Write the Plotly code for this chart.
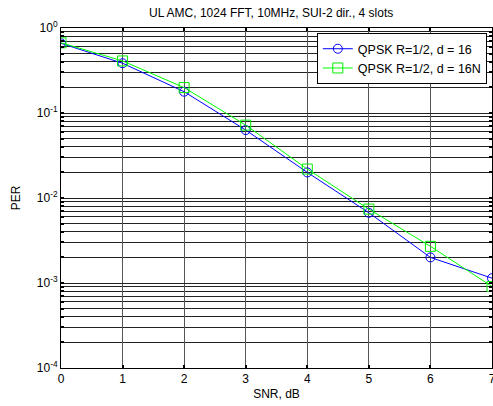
import plotly.graph_objects as go

snr = [0, 1, 2, 3, 4, 5, 6, 7]
per_d16 = [0.66, 0.385, 0.178, 0.063, 0.020, 0.0067, 0.0020, 0.00114]
per_d16n = [0.67, 0.41, 0.199, 0.072, 0.0219, 0.0074, 0.0027, 0.00091]
name_d16 = "QPSK R=1/2, d = 16"
name_d16n = "QPSK R=1/2, d = 16N"
title = "UL AMC, 1024 FFT, 10MHz, SUI-2 dir., 4 slots"
y_tickvals = [1e-4, 1e-3, 1e-2, 1e-1, 1]
y_ticktext = ["10<sup>-4</sup>", "10<sup>-3</sup>", "10<sup>-2</sup>", "10<sup>-1</sup>", "10<sup>0</sup>"]
x_tickvals = [0, 1, 2, 3, 4, 5, 6, 7]
y_minor = [m * 10.0 ** e for e in range(-4, 0) for m in range(2, 10)]

font = "Liberation Sans, Arial, sans-serif"

fig = go.Figure()
fig.add_trace(go.Scatter(x=snr, y=per_d16, name=name_d16, mode="lines+markers",
                         line=dict(color="#0000ff", width=1),
                         marker=dict(symbol="circle-open", size=9, color="#0000ff", line=dict(width=1))))
fig.add_trace(go.Scatter(x=snr, y=per_d16n, name=name_d16n, mode="lines+markers",
                         line=dict(color="#00ff00", width=1),
                         marker=dict(symbol="square-open", size=10, color="#00ee00", line=dict(width=1))))

fig.update_layout(
    width=493, height=406,
    margin=dict(l=61, r=1, t=28, b=38, autoexpand=False),
    paper_bgcolor="white", plot_bgcolor="white",
    font=dict(family=font, size=12, color="black"),
    title=dict(text=title, x=0.55, xanchor="center", y=0.968, yanchor="middle",
               font=dict(size=12)),
    showlegend=True,
    legend=dict(x=0.988, xanchor="right", y=0.985, yanchor="top",
                bgcolor="white", bordercolor="black", borderwidth=1,
                font=dict(size=12.5), tracegroupgap=0, itemwidth=30),
)
fig.update_xaxes(
    range=[0, 7], tickvals=x_tickvals, ticks="inside", ticklen=3, tickwidth=2,
    tickcolor="black", showline=True, linecolor="black", linewidth=1, mirror="ticks",
    showgrid=True, gridcolor="#555555", gridwidth=1, zeroline=False, automargin=False,
    ticklabeloverflow="allow",
    title=dict(text="SNR, dB", standoff=4, font=dict(size=12)),
)
fig.update_yaxes(
    type="log", range=[-4, 0], tickvals=y_tickvals, ticktext=y_ticktext,
    ticks="inside", ticklen=3, tickwidth=2, tickcolor="black",
    showline=True, linecolor="black", linewidth=1, mirror="ticks",
    showgrid=True, gridcolor="#222222", gridwidth=1, zeroline=False, automargin=False,
    ticklabeloverflow="allow",
    minor=dict(tickvals=y_minor, ticks="inside", ticklen=3, tickwidth=2, tickcolor="black",
               showgrid=True, gridcolor="#222222", gridwidth=1),
    title=dict(text="PER", standoff=13, font=dict(size=12)),
)

fig.write_html("out.html", config={"displayModeBar": False},
               post_script="document.body.style.margin='0';document.body.style.overflow='hidden';")
